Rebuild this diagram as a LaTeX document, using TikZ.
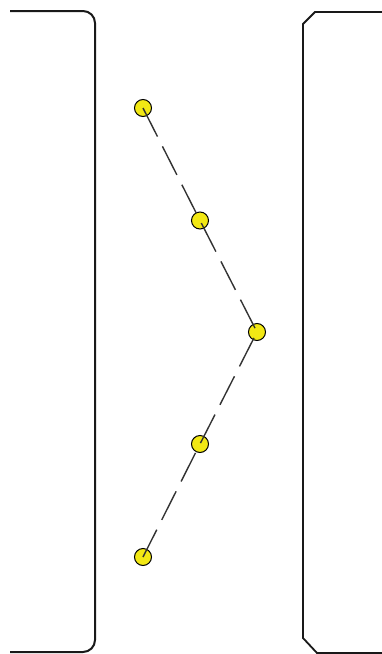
\documentclass[tikz,border=0pt]{standalone}
\begin{document}
\begin{tikzpicture}[x=1pt,y=-1pt,
  dot/.style={circle,draw=black,line width=1pt,fill={rgb,255:red,242;green,232;blue,20},minimum size=17pt,inner sep=0pt},
  frameline/.style={line width=2pt,black!90},
  link/.style={line width=1.4pt,black!80,dash pattern=on 32pt off 11pt}]
\useasboundingbox (0,0) rectangle (382,654);
% left frame
\draw[frameline,rounded corners=12pt] (10,11) -- (95,11) -- (95,652) -- (10,652);
% right frame
\draw[frameline,line width=1.8pt] (382,12) -- (315,12) -- (303,24) -- (303,638) -- (317,653) -- (382,653);
% dots
\node[dot] (d1) at (143,108) {};
\node[dot] (d2) at (200,220.5) {};
\node[dot] (d3) at (257,332) {};
\node[dot] (d4) at (200,444) {};
\node[dot] (d5) at (143,557) {};
\draw[link] (d1.center) -- (d2.center) -- (d3.center) -- (d4.center) -- (d5.center);
\end{tikzpicture}
\end{document}
